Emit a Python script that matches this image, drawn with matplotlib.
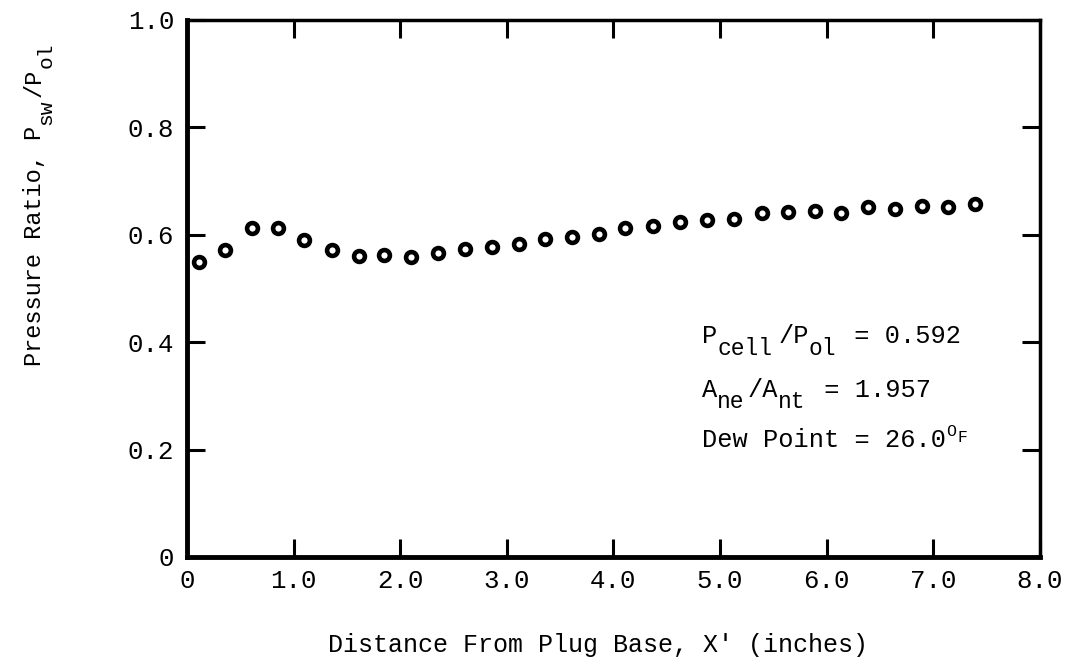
import matplotlib
matplotlib.use("Agg")
import matplotlib.pyplot as plt

# data
x_in = [0.11, 0.36, 0.61, 0.85, 1.10, 1.36, 1.61, 1.85, 2.10, 2.35,
        2.61, 2.86, 3.11, 3.36, 3.61, 3.86, 4.11, 4.37, 4.62, 4.88,
        5.13, 5.39, 5.64, 5.89, 6.13, 6.39, 6.64, 6.89, 7.14, 7.39]
p_ratio = [0.550, 0.572, 0.612, 0.612, 0.590, 0.572, 0.561, 0.562, 0.559, 0.566,
           0.574, 0.578, 0.583, 0.592, 0.595, 0.601, 0.613, 0.617, 0.623, 0.628,
           0.629, 0.640, 0.643, 0.644, 0.641, 0.651, 0.648, 0.654, 0.651, 0.657]

x_ticks = [0, 1, 2, 3, 4, 5, 6, 7, 8]
x_labels = ['0', '1.0', '2.0', '3.0', '4.0', '5.0', '6.0', '7.0', '8.0']
y_ticks = [0, 0.2, 0.4, 0.6, 0.8, 1.0]
y_labels = ['0', '0.2', '0.4', '0.6', '0.8', '1.0']

# text pieces: (string, kind) with n = normal, s = subscript, u/f = small raised
note_lines = [
    [('P', 'n'), ('cell', 's'), ('/P', 'n'), ('ol', 's'), (' = 0.592', 'n')],
    [('A', 'n'), ('ne', 's'), ('/A', 'n'), ('nt', 's'), (' = 1.957', 'n')],
    [('Dew Point = 26.0', 'n'), ('O', 'u'), ('F', 'f')],
]
note_y = [0.398, 0.298, 0.205]
ylabel_parts = [('Pressure Ratio, P', 'n'), ('sw', 's'), ('/P', 'n'), ('ol', 's')]

plt.rcParams['font.family'] = ['Liberation Mono', 'DejaVu Sans Mono']

# size factor, baseline shift and advance per char (units of main font size)
styles = {'n': (1.0, 0.0, 0.6), 's': (0.9, -0.45, 0.6),
          'u': (0.65, 0.42, 0.45), 'f': (0.65, 0.18, 0.45)}


def put_pieces(ax, xy, coords, parts, fs, rotation=0):
    # typewriter style text: every piece placed by hand with an offset
    pos = 0.0
    for s, kind in parts:
        scale, shift, adv = styles[kind]
        dy = shift * fs
        if rotation == 90:
            off = (-dy, pos)
        else:
            off = (pos, dy)
        ax.annotate(s, xy=xy, xycoords=coords, xytext=off,
                    textcoords='offset points', fontsize=fs * scale,
                    ha='left', va='baseline', rotation=rotation,
                    rotation_mode='anchor', annotation_clip=False)
        pos += adv * fs * len(s)


fig = plt.figure(figsize=(10.66, 6.59), dpi=100)
ax = fig.add_axes([0.1754, 0.1548, 0.8002, 0.8149])

ax.plot(x_in, p_ratio, linestyle='none', marker='o', markersize=7.8,
        markerfacecolor='white', markeredgecolor='black', markeredgewidth=3.3)

ax.set_xlim(0, 8)
ax.set_ylim(0, 1.0)
ax.set_xticks(x_ticks)
ax.set_xticklabels(x_labels)
ax.set_yticks(y_ticks)
ax.set_yticklabels(y_labels)

ax.tick_params(axis='both', direction='in', length=13, width=2.2,
               labelsize=18.5, top=True, right=True, color='black')
ax.tick_params(axis='x', pad=9)
ax.tick_params(axis='y', pad=9)

for side in ['left', 'bottom']:
    ax.spines[side].set_linewidth(3.5)
for side in ['top', 'right']:
    ax.spines[side].set_linewidth(2.5)

for parts, yy in zip(note_lines, note_y):
    put_pieces(ax, (4.83, yy), 'data', parts, 18.3)

ax.set_xlabel("Distance From Plug Base, X' (inches)", fontsize=18)
ax.xaxis.set_label_coords(0.482, -0.164)
ax.xaxis.label.set_va('center')

# y label built from pieces so the subscripts keep the original size
put_pieces(ax, (41, 659 - 366), 'figure pixels', ylabel_parts, 17, rotation=90)

plt.savefig('out.png', dpi=100)
